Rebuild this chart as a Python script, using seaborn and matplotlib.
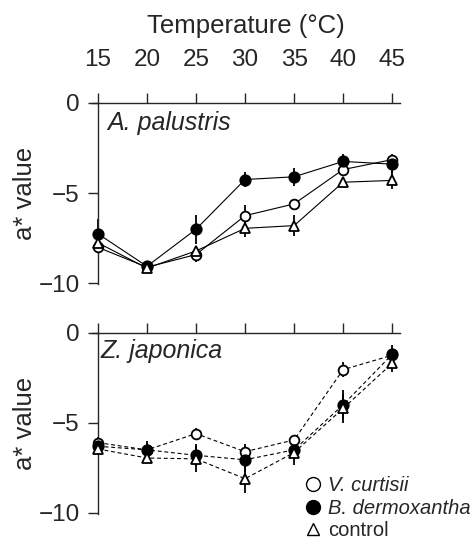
import matplotlib
matplotlib.use("Agg")
from matplotlib import pyplot as plt
from matplotlib.lines import Line2D
import pandas as pd
import seaborn as sns

temps = [15, 20, 25, 30, 35, 40, 45]
series = ["V. curtisii", "B. dermoxantha", "control"]

# A. palustris (top panel)
pal_vc = [-8.0, -9.1, -8.4, -6.25, -5.6, -3.7, -3.15]
pal_bd = [-7.25, -9.05, -7.0, -4.25, -4.1, -3.25, -3.4]
pal_ct = [-7.75, -9.15, -8.2, -6.95, -6.8, -4.4, -4.3]
pal_vc_err = [0.3, 0.2, 0.4, 0.6, 0.2, 0.3, 0.3]
pal_bd_err = [0.8, 0.2, 0.8, 0.4, 0.5, 0.4, 0.5]
pal_ct_err = [0.3, 0.2, 0.3, 0.5, 0.6, 0.2, 0.5]

# Z. japonica (bottom panel)
jap_vc = [-6.1, -6.5, -5.6, -6.6, -5.95, -2.05, -1.25]
jap_bd = [-6.3, -6.5, -6.8, -7.05, -6.5, -4.0, -1.2]
jap_ct = [-6.45, -6.95, -7.0, -8.1, -6.65, -4.2, -1.7]
jap_vc_err = [0.3, 0.4, 0.3, 0.4, 0.3, 0.4, 0.3]
jap_bd_err = [0.3, 0.5, 0.6, 0.7, 0.5, 0.8, 0.5]
jap_ct_err = [0.3, 0.3, 0.7, 0.8, 0.7, 0.8, 0.5]

sns.set_style("ticks")
plt.rcParams["font.family"] = ["Liberation Sans", "DejaVu Sans"]

styles = {
    "V. curtisii": dict(marker="o", mfc="white", ms=7),
    "B. dermoxantha": dict(marker="o", mfc="black", ms=7.5),
    "control": dict(marker="^", mfc="white", ms=7),
}


def draw_panel(ax, values, errors, linestyle, label, label_x, label_y):
    for name, vals, errs in zip(series, values, errors):
        df = pd.DataFrame({"temp": temps, "a": vals})
        ax.errorbar(temps, vals, yerr=errs, fmt="none", ecolor="black",
                    elinewidth=1.3, capsize=0, zorder=2)
        st = styles[name]
        sns.lineplot(data=df, x="temp", y="a", ax=ax, color="black",
                     linewidth=0.8, linestyle=linestyle, marker=st["marker"],
                     markersize=st["ms"], markerfacecolor=st["mfc"],
                     markeredgecolor="black", markeredgewidth=1.3, zorder=3)
    ax.set_xlim(14.4, 45.8)
    ax.set_ylim(-10.05, 0)
    ax.set_yticks([0, -5, -10])
    ax.set_yticklabels(["0", "\u22125", "\u221210"])
    ax.set_xticks(temps)
    ax.spines["left"].set_position(("data", 15))
    ax.spines["right"].set_visible(False)
    ax.spines["bottom"].set_visible(False)
    ax.spines["top"].set_visible(True)
    for s in ("left", "top"):
        ax.spines[s].set_linewidth(1.0)
    ax.xaxis.tick_top()
    ax.tick_params(axis="both", direction="out", length=7, width=1.0,
                   labelsize=17.5)
    ax.tick_params(axis="y", pad=6)
    ax.tick_params(axis="x", pad=16)
    ax.set_ylabel("a* value", fontsize=18.5, labelpad=1)
    ax.set_xlabel("")
    ax.text(label_x, label_y, label, transform=ax.transAxes, fontsize=18,
            style="italic", va="baseline", ha="left")


fig = plt.figure(figsize=(4.72, 5.49), dpi=100)
ax1 = fig.add_axes([0.195, 0.482, 0.6525, 0.331])
ax2 = fig.add_axes([0.195, 0.064, 0.6525, 0.330])

draw_panel(ax1, [pal_vc, pal_bd, pal_ct], [pal_vc_err, pal_bd_err, pal_ct_err],
           "-", "A. palustris", 0.049, 0.849)
draw_panel(ax2, [jap_vc, jap_bd, jap_ct], [jap_vc_err, jap_bd_err, jap_ct_err],
           (0, (3.5, 2.5)), "Z. japonica", 0.029, 0.862)

ax1.xaxis.set_label_position("top")
ax1.set_xlabel("Temperature (\u00b0C)", fontsize=18.5, labelpad=11)
ax2.tick_params(axis="x", labeltop=False)

handles = [
    Line2D([], [], linestyle="none", marker="o", mfc="white", mec="black", ms=10, mew=1.0),
    Line2D([], [], linestyle="none", marker="o", mfc="black", mec="black", ms=10, mew=1.0),
    Line2D([], [], linestyle="none", marker="^", mfc="white", mec="black", ms=9, mew=1.0),
]
leg = ax2.legend(handles, series, loc="upper left", bbox_to_anchor=(0.646, 0.133),
                 bbox_transform=fig.transFigure, frameon=False, fontsize=14.5,
                 handlelength=0.8, handletextpad=0.35, labelspacing=0.18, borderpad=0,
                 borderaxespad=0)
leg.get_texts()[0].set_style("italic")
leg.get_texts()[1].set_style("italic")

plt.savefig("out.png", dpi=100)
